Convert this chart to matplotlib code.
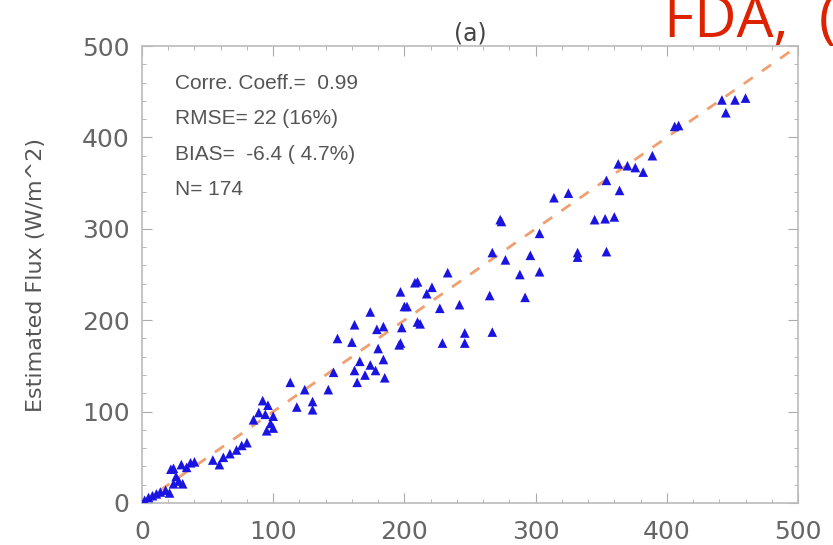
import matplotlib
matplotlib.use("Agg")
import matplotlib.pyplot as plt
from matplotlib.ticker import MultipleLocator

plt.rcParams['font.family'] = ['DejaVu Sans']

obs = [2, 5, 8, 11, 14, 18, 21, 24, 28, 31, 26, 22, 24, 30, 37, 34, 40, 54, 59, 62,
       67, 72, 80, 76, 85, 89, 92, 95, 98, 94, 96, 100, 100, 113, 118, 124, 130, 130,
       142, 146, 149, 160, 162, 164, 162, 166, 170, 174, 174, 178, 179, 184, 185, 180,
       184, 196, 197, 197, 198, 200, 202, 208, 210, 210, 212, 217, 221, 227, 229, 233,
       242, 246, 246, 265, 267, 267, 273, 274, 277, 288, 292, 296, 303, 303, 314, 325,
       332, 332, 345, 353, 360, 354, 354, 363, 364, 370, 376, 382, 389, 406, 409, 442,
       445, 452, 460]
est = [3, 6, 8, 10, 12, 14, 11, 21, 24, 21, 29, 37, 38, 42, 44, 39, 45, 47, 42, 50,
       54, 58, 66, 63, 91, 99, 112, 79, 87, 97, 107, 95, 82, 132, 105, 124, 102, 111,
       124, 143, 180, 176, 145, 132, 195, 155, 140, 151, 209, 145, 190, 157, 137, 169,
       193, 173, 175, 231, 192, 215, 215, 241, 242, 198, 196, 229, 236, 213, 175, 252,
       217, 186, 175, 227, 187, 274, 310, 308, 266, 250, 225, 271, 295, 253, 334, 339,
       274, 269, 310, 311, 313, 275, 353, 371, 342, 369, 367, 362, 380, 412, 413, 441,
       427, 441, 443]

stats_lines = ["Corre. Coeff.=  0.99", "RMSE= 22 (16%)", "BIAS=  -6.4 ( 4.7%)", "N= 174"]
xticks = [0, 100, 200, 300, 400, 500]
yticks = [0, 100, 200, 300, 400, 500]

fig = plt.figure(figsize=(8.33, 5.45), dpi=100)
ax = fig.add_axes([142 / 833, 1 - 503 / 545, 656 / 833, 457 / 545])

ax.plot([0, 500], [0, 500], linestyle=(0, (4, 4)), color='#f0a070', lw=2, zorder=1)
ax.scatter(obs, est, marker='^', s=48, color='#1a14e0', edgecolors='none', zorder=3)

ax.set_xlim(0, 500)
ax.set_ylim(0, 500)
ax.set_xticks(xticks)
ax.set_yticks(yticks)
ax.xaxis.set_minor_locator(MultipleLocator(20))
ax.yaxis.set_minor_locator(MultipleLocator(20))
ax.tick_params(which='both', direction='in', top=True, right=True, colors='#aaaaaa',
               labelcolor='#666666', labelsize=18)
ax.tick_params(which='major', length=7)
ax.tick_params(which='minor', length=3)
ax.tick_params(axis='x', pad=12)
ax.tick_params(axis='y', pad=9)
for s in ax.spines.values():
    s.set_color('#bbbbbb')
    s.set_linewidth(1.2)

ax.set_ylabel("Estimated Flux (W/m^2)", fontsize=16, color='#555555', labelpad=26)
ax.set_title("(a)", fontsize=17, color='#444444', pad=4)

for i, line in enumerate(stats_lines):
    ax.text(0.05, 0.919 - i * 0.078, line, transform=ax.transAxes, fontsize=15,
            color='#555555', va='center', ha='left',
            family=['Liberation Sans', 'DejaVu Sans'])

fig.text(664 / 833, 1 - 37 / 545, "FDA,  (", fontsize=42, color='#dd2200',
         ha='left', va='baseline', family=['Open Sans', 'DejaVu Sans'])

fig.savefig("out.png", dpi=100)
